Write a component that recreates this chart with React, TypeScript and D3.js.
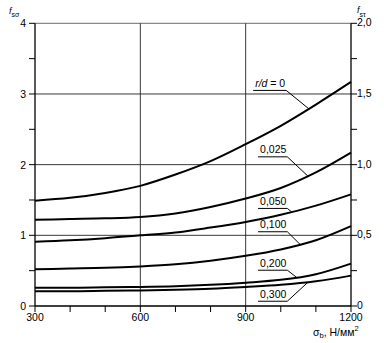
import React, { useEffect, useRef } from "react";
import * as d3 from "d3";

const sigma = [300, 400, 500, 600, 700, 800, 900, 1000, 1100, 1200];
const rd0 = [1.49, 1.53, 1.6, 1.7, 1.86, 2.05, 2.29, 2.55, 2.85, 3.17];
const rd025 = [1.22, 1.23, 1.24, 1.26, 1.31, 1.4, 1.52, 1.67, 1.89, 2.17];
const rd050 = [0.91, 0.93, 0.96, 1.0, 1.04, 1.11, 1.19, 1.29, 1.42, 1.58];
const rd100 = [0.52, 0.53, 0.54, 0.56, 0.59, 0.64, 0.71, 0.8, 0.93, 1.13];
const rd200 = [0.26, 0.26, 0.265, 0.27, 0.28, 0.3, 0.33, 0.37, 0.45, 0.6];
const rd300 = [0.21, 0.21, 0.215, 0.22, 0.23, 0.245, 0.27, 0.3, 0.35, 0.43];

const seriesNames = ["r/d = 0", "0,025", "0,050", "0,100", "0,200", "0,300"];
const seriesValues = [rd0, rd025, rd050, rd100, rd200, rd300];
// label anchor (sigma, value of baseline) and pointer target sigma
const labelSigma = [927, 941, 941, 941, 941, 941];
const labelValue = [3.1, 2.16, 1.43, 1.1, 0.556, 0.117];
const pointerSigma = [1080, 1077, 1031, 1055, 1045, 1078];

const xTicks = [300, 600, 900, 1200];
const xMinorTicks = [300, 400, 500, 600, 700, 800, 900, 1000, 1100, 1200];
const yLeftTicks = [0, 1, 2, 3, 4];
const yLeftMinor = [0.5, 1.5, 2.5, 3.5];
const yRightTicks = [0, 0.5, 1.0, 1.5, 2.0];
const yRightLabels = ["0", "0,5", "1,0", "1,5", "2,0"];
const yRightMinor = [0.25, 0.75, 1.25, 1.75];

export default function App() {
  const ref = useRef<SVGSVGElement>(null);
  useEffect(() => {
    const svg = d3.select(ref.current);
    svg.selectAll("*").remove();
    const font = "Liberation Sans, Arial, sans-serif";
    const fs = 10.5;
    const x = d3.scaleLinear().domain([300, 1200]).range([35, 351]);
    const y = d3.scaleLinear().domain([0, 4]).range([306, 23.3]);
    const y2 = d3.scaleLinear().domain([0, 2]).range([306, 23.3]);
    const g = svg.append("g");

    // top border
    g.append("line").attr("x1", x(300)).attr("x2", x(1200)).attr("y1", y(4)).attr("y2", y(4))
      .attr("stroke", "#888").attr("stroke-width", 1.2);
    // gridlines
    [1, 2, 3].forEach((v) => {
      g.append("line").attr("x1", x(300)).attr("x2", x(1200)).attr("y1", y(v)).attr("y2", y(v))
        .attr("stroke", "#222").attr("stroke-width", 0.9);
    });
    [600, 900].forEach((v) => {
      g.append("line").attr("x1", x(v)).attr("x2", x(v)).attr("y1", y(0)).attr("y2", y(4))
        .attr("stroke", "#222").attr("stroke-width", 0.9);
    });
    // axes
    g.append("line").attr("x1", x(300)).attr("x2", x(300)).attr("y1", y(0)).attr("y2", y(4))
      .attr("stroke", "#000").attr("stroke-width", 1.3);
    g.append("line").attr("x1", x(1200)).attr("x2", x(1200)).attr("y1", y(0)).attr("y2", y(4))
      .attr("stroke", "#000").attr("stroke-width", 1.3);
    g.append("line").attr("x1", x(300)).attr("x2", x(1200)).attr("y1", y(0)).attr("y2", y(0))
      .attr("stroke", "#000").attr("stroke-width", 1.3);

    // left ticks
    [...yLeftTicks, ...yLeftMinor].forEach((v) => {
      g.append("line").attr("x1", x(300) - 6).attr("x2", x(300)).attr("y1", y(v)).attr("y2", y(v))
        .attr("stroke", "#000").attr("stroke-width", 1);
    });
    yLeftTicks.forEach((v) => {
      g.append("text").attr("x", x(300) - 9).attr("y", y(v) + 4).attr("text-anchor", "end")
        .attr("font-family", font).attr("font-size", fs).text(String(v));
    });
    // right ticks
    [...yRightTicks, ...yRightMinor].forEach((v) => {
      g.append("line").attr("x1", x(1200)).attr("x2", x(1200) + 6).attr("y1", y2(v)).attr("y2", y2(v))
        .attr("stroke", "#000").attr("stroke-width", 1);
    });
    yRightTicks.forEach((v, i) => {
      g.append("text").attr("x", x(1200) + 6).attr("y", y2(v) + 3).attr("text-anchor", "start")
        .attr("font-family", font).attr("font-size", fs).text(yRightLabels[i]);
    });
    // bottom ticks
    xMinorTicks.forEach((v) => {
      g.append("line").attr("x1", x(v)).attr("x2", x(v)).attr("y1", y(0)).attr("y2", y(0) + 6)
        .attr("stroke", "#000").attr("stroke-width", 1);
    });
    xTicks.forEach((v) => {
      g.append("text").attr("x", x(v)).attr("y", 320.5).attr("text-anchor", "middle")
        .attr("font-family", font).attr("font-size", fs).text(String(v));
    });

    // titles
    const t1 = g.append("text").attr("x", 9).attr("y", 14).attr("font-family", font).attr("font-size", 9);
    t1.append("tspan").attr("font-style", "italic").text("f");
    t1.append("tspan").attr("font-size", 7).attr("dy", 3).text("sσ");
    const t2 = g.append("text").attr("x", 357).attr("y", 13).attr("font-family", font).attr("font-size", 9);
    t2.append("tspan").attr("font-style", "italic").text("f");
    t2.append("tspan").attr("font-size", 7).attr("dy", 3.5).text("sτ");
    const t3 = g.append("text").attr("x", 313).attr("y", 335.5).attr("font-family", font).attr("font-size", fs);
    t3.append("tspan").text("σ");
    t3.append("tspan").attr("font-size", 7.5).attr("dy", 2.5).text("b");
    t3.append("tspan").attr("dy", -2.5).text(", Н/мм");
    t3.append("tspan").attr("font-size", 7.5).attr("dy", -5).text("2");

    // curves
    const line = d3.line<number>()
      .x((_, i) => x(sigma[i]))
      .y((d) => y(d))
      .curve(d3.curveMonotoneX);
    seriesValues.forEach((vals) => {
      g.append("path").attr("d", line(vals) as string).attr("fill", "none")
        .attr("stroke", "#000").attr("stroke-width", 2);
    });

    // labels with leaders
    const interp = (vals: number[], s: number) => {
      const f = d3.scaleLinear().domain(sigma).range(vals);
      return f(s);
    };
    seriesNames.forEach((name, i) => {
      const lx = x(labelSigma[i]);
      const ly = y(labelValue[i]);
      const txt = g.append("text").attr("x", lx).attr("y", ly).attr("font-family", font).attr("font-size", fs);
      if (i === 0) {
        txt.append("tspan").attr("font-style", "italic").text("r/d");
        txt.append("tspan").text(" = 0");
      } else {
        txt.text(name);
      }
      const w = (txt.node() as SVGTextElement).getComputedTextLength();
      const ux0 = lx - 2;
      const ux1 = lx + w + 1;
      const uy = ly + 3.5;
      const tx = x(pointerSigma[i]);
      const ty = y(interp(seriesValues[i], pointerSigma[i]));
      g.append("polyline")
        .attr("points", `${ux0},${uy} ${ux1},${uy} ${tx},${ty}`)
        .attr("fill", "none").attr("stroke", "#000").attr("stroke-width", 1);
    });
  }, []);
  return (
    <svg ref={ref} width={384} height={343}
      style={{ position: "absolute", left: 0, top: 0, background: "#fff" }} />
  );
}
